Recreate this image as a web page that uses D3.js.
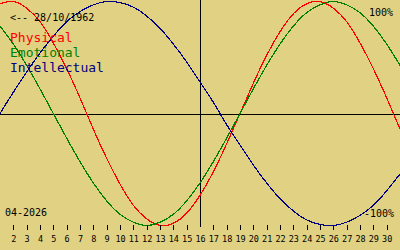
<!DOCTYPE html>
<html>
<head>
<meta charset="utf-8">
<script src="https://cdn.jsdelivr.net/npm/d3@7"></script>
<style>
  body { margin: 0; background: #e0d282; }
  svg { display: block; }
  text { font-family: "DejaVu Sans Mono", monospace; }
</style>
</head>
<body>
<div id="chart"></div>
<script>
// day of month (april 2026), day 31 is the right edge
var days = [1, 2, 3, 4, 5, 6, 7, 8, 9, 10, 11, 12, 13, 14, 15, 16,
            17, 18, 19, 20, 21, 22, 23, 24, 25, 26, 27, 28, 29, 30, 31];
var physical = [0.98, 1.00, 0.94, 0.82, 0.63, 0.40, 0.14, -0.14, -0.40, -0.63, -0.82,
                -0.94, -1.00, -0.98, -0.89, -0.73, -0.52, -0.27, 0.00, 0.27, 0.52,
                0.73, 0.89, 0.98, 1.00, 0.94, 0.82, 0.63, 0.40, 0.14, -0.14];
var emotional = [0.78, 0.62, 0.43, 0.22, 0.00, -0.22, -0.43, -0.62, -0.78, -0.90, -0.97,
                 -1.00, -0.97, -0.90, -0.78, -0.62, -0.43, -0.22, 0.00, 0.22, 0.43,
                 0.62, 0.78, 0.90, 0.97, 1.00, 0.97, 0.90, 0.78, 0.62, 0.43];
var intellectual = [0.00, 0.19, 0.37, 0.54, 0.69, 0.82, 0.91, 0.97, 1.00, 0.99, 0.95,
                    0.87, 0.76, 0.62, 0.46, 0.28, 0.10, -0.10, -0.28, -0.46, -0.62,
                    -0.76, -0.87, -0.95, -0.99, -1.00, -0.97, -0.91, -0.82, -0.69, -0.54];
var seriesNames = ["Physical", "Emotional", "Intellectual"];
var tickDays = [2, 3, 4, 5, 6, 7, 8, 9, 10, 11, 12, 13, 14, 15, 16,
                17, 18, 19, 20, 21, 22, 23, 24, 25, 26, 27, 28, 29, 30];
var today = 16;
var birthLabel = "<-- 28/10/1962";
var monthLabel = "04-2026";

var width = 400, height = 250;

var svg = d3.select("#chart")
    .append("svg")
    .attr("width", width)
    .attr("height", height);

var x = d3.scaleLinear()
    .domain([1, 31])
    .range([0, width]);

var y = d3.scaleLinear()
    .domain([-1, 1])
    .range([225.5, 1.5]);

var color = d3.scaleOrdinal()
    .domain(seriesNames)
    .range(["#ff0000", "#008000", "#000080"]);

// zero line and today line
svg.append("line")
    .attr("x1", 0).attr("x2", width)
    .attr("y1", Math.round(y(0)) + 0.5).attr("y2", Math.round(y(0)) + 0.5)
    .attr("stroke", "#000")
    .attr("shape-rendering", "crispEdges");

svg.append("line")
    .attr("x1", Math.round(x(today)) + 0.5).attr("x2", Math.round(x(today)) + 0.5)
    .attr("y1", 0).attr("y2", 227)
    .attr("stroke", "#000")
    .attr("shape-rendering", "crispEdges");

// curves
var line = d3.line()
    .x(function (d, i) { return x(days[i]); })
    .y(function (d) { return y(d); })
    .curve(d3.curveNatural);

[physical, emotional, intellectual].forEach(function (vals, i) {
    svg.append("path")
        .attr("d", line(vals))
        .attr("fill", "none")
        .attr("stroke", color(seriesNames[i]))
        .attr("stroke-width", 1.2)
        .attr("shape-rendering", "crispEdges");
});

// day axis
var xAxis = svg.append("g")
    .attr("transform", "translate(0,225)")
    .call(d3.axisBottom(x)
        .tickValues(tickDays)
        .tickFormat(d3.format("d"))
        .tickSize(5)
        .tickPadding(6));

xAxis.select(".domain").remove();
xAxis.selectAll(".tick line")
    .attr("stroke", "#000")
    .attr("shape-rendering", "crispEdges")
    .attr("opacity", function (d) { return d === today ? 0 : 1; });
xAxis.selectAll(".tick text")
    .attr("fill", "#000")
    .style("font-family", "DejaVu Sans Mono, monospace")
    .style("font-size", "8.5px");

// labels
svg.append("text")
    .attr("x", 10).attr("y", 21)
    .style("font-size", "10px")
    .text(birthLabel);

svg.selectAll(".legend")
    .data(seriesNames)
    .enter()
    .append("text")
    .attr("class", "legend")
    .attr("x", 10)
    .attr("y", function (d, i) { return 42 + i * 15; })
    .attr("fill", function (d) { return color(d); })
    .style("font-size", "13px")
    .text(function (d) { return d; });

svg.append("text")
    .attr("x", 393).attr("y", 16)
    .attr("text-anchor", "end")
    .style("font-size", "10px")
    .text("100%");

svg.append("text")
    .attr("x", 394).attr("y", 217)
    .attr("text-anchor", "end")
    .style("font-size", "10px")
    .text("-100%");

svg.append("text")
    .attr("x", 5).attr("y", 216)
    .style("font-size", "10px")
    .text(monthLabel);
</script>
</body>
</html>
